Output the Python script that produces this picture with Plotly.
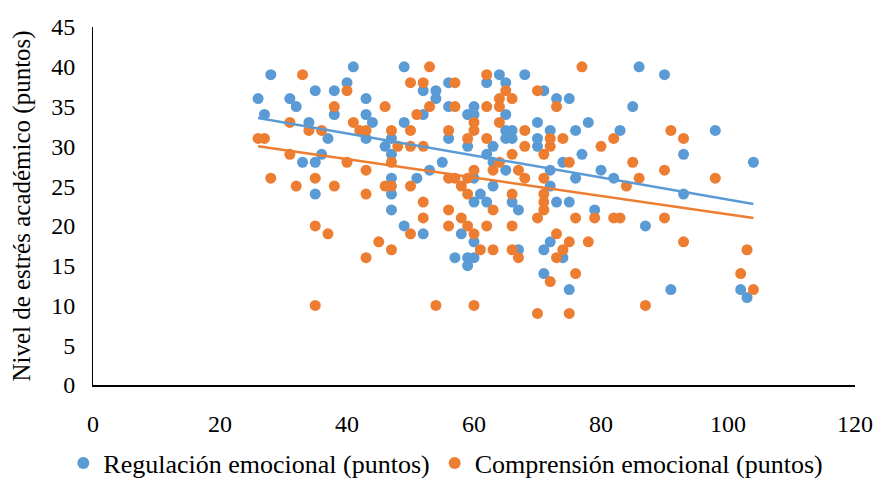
import numpy as np
import plotly.graph_objects as go

# Regulación emocional (puntos) vs Nivel de estrés académico
reg_x = [26, 27, 28, 31, 32, 35, 38, 40, 41, 43, 38, 43, 44, 34, 37, 43, 47, 46, 47, 36,
         33, 35, 47, 35, 47, 49, 68, 64, 56, 62, 65, 52, 54, 54, 71, 56, 60, 59, 60, 65,
         52, 49, 70, 65, 66, 65, 66, 56, 59, 63, 70, 70, 62, 55, 63, 65, 72, 47, 51, 53,
         60, 63, 60, 61, 66, 67, 49, 52, 58, 60, 62, 67, 57, 59, 60, 59, 71, 72, 71, 86,
         90, 85, 73, 75, 78, 83, 76, 72, 77, 93, 74, 80, 82, 76, 93, 72, 73, 75, 79, 87,
         74, 75, 91, 98, 104, 102, 103]
reg_y = [36, 34, 39, 36, 35, 37, 37, 38, 40, 36, 34, 34, 33, 33, 31, 31, 31, 30, 29, 29,
         28, 28, 24, 24, 22, 40, 39, 39, 38, 38, 38, 37, 37, 36, 37, 35, 35, 34, 34, 34,
         34, 33, 33, 32, 32, 31, 31, 31, 30, 30, 31, 30, 29, 28, 28, 27, 27, 26, 26, 27,
         26, 25, 23, 24, 23, 22, 20, 19, 19, 18, 23, 17, 16, 16, 16, 15, 17, 18, 14, 40,
         39, 35, 36, 36, 33, 32, 32, 32, 29, 29, 28, 27, 26, 26, 24, 25, 23, 23, 22, 20,
         16, 12, 12, 32, 28, 12, 11]

# Comprensión emocional (puntos) vs Nivel de estrés académico
com_x = [33, 40, 38, 46, 31, 41, 34, 36, 42, 43, 47, 26, 27, 48, 31, 40, 43, 47, 28, 35,
         32, 38, 46, 47, 43, 35, 37, 45, 43, 47, 35, 53, 62, 50, 52, 57, 65, 66, 64, 70,
         53, 57, 62, 64, 51, 60, 64, 60, 56, 50, 68, 59, 62, 68, 50, 52, 71, 72, 66, 64,
         60, 63, 67, 68, 56, 57, 59, 58, 59, 50, 71, 66, 71, 71, 71, 52, 56, 58, 52, 56,
         59, 60, 63, 70, 50, 62, 66, 61, 63, 66, 67, 72, 54, 60, 70, 77, 73, 91, 93, 82,
         80, 74, 72, 75, 85, 90, 86, 84, 76, 79, 82, 83, 90, 73, 75, 78, 93, 74, 73, 76,
         87, 75, 98, 103, 102, 104]
com_y = [39, 37, 35, 35, 33, 33, 32, 32, 32, 32, 32, 31, 31, 30, 29, 28, 27, 28, 26, 26,
         25, 25, 25, 25, 24, 20, 19, 18, 16, 17, 10, 40, 39, 38, 38, 38, 37, 36, 36, 37,
         35, 35, 35, 35, 34, 33, 33, 32, 32, 32, 32, 31, 31, 30, 30, 30, 29, 30, 29, 28,
         27, 27, 27, 26, 26, 26, 26, 25, 24, 25, 26, 24, 24, 23, 22, 23, 22, 21, 21, 20,
         20, 19, 22, 21, 19, 20, 20, 17, 17, 17, 16, 13, 10, 10, 9, 40, 35, 32, 31, 31,
         30, 31, 31, 28, 28, 27, 26, 25, 21, 21, 21, 21, 21, 19, 18, 18, 18, 17, 16, 14,
         10, 9, 26, 17, 14, 12]

x_ticks = [0, 20, 40, 60, 80, 100, 120]
y_ticks = [0, 5, 10, 15, 20, 25, 30, 35, 40, 45]

BLUE = "#5B9BD5"
ORANGE = "#ED7D31"
FONT = "Liberation Serif, Times New Roman, serif"

fig = go.Figure()
fig.add_trace(go.Scatter(x=reg_x, y=reg_y, mode="markers", name="Regulación emocional (puntos)",
                         marker=dict(color=BLUE, size=11, line=dict(width=0))))
fig.add_trace(go.Scatter(x=com_x, y=com_y, mode="markers", name="Comprensión emocional (puntos)",
                         marker=dict(color=ORANGE, size=11, line=dict(width=0))))

for xs, ys, col in [(reg_x, reg_y, BLUE), (com_x, com_y, ORANGE)]:
    m, b = np.polyfit(xs, ys, 1)
    lx = np.array([min(xs), max(xs)])
    fig.add_trace(go.Scatter(x=lx, y=m * lx + b, mode="lines", showlegend=False,
                             line=dict(color=col, width=2.5), hoverinfo="skip"))

fig.update_layout(
    width=877, height=472,
    margin=dict(l=85, r=30, t=19, b=95, autoexpand=False),
    paper_bgcolor="white", plot_bgcolor="white",
    font=dict(family=FONT, size=24, color="#000000"),
    showlegend=True,
    legend=dict(orientation="h", x=0.463, xanchor="center",
                y=-0.218, yanchor="middle",
                font=dict(family=FONT, size=26), itemsizing="constant",
                traceorder="normal", itemwidth=30),
)
fig.update_xaxes(range=[0, 120], tickvals=x_ticks, showgrid=False, zeroline=False,
                 showline=True, linecolor="#000000", linewidth=2, ticks="",
                 ticklabelstandoff=16, tickfont=dict(family=FONT, size=24))
fig.update_yaxes(range=[0, 45], tickvals=y_ticks, showgrid=False, zeroline=False,
                 showline=True, linecolor="#000000", linewidth=1, ticks="",
                 ticklabelstandoff=12, tickfont=dict(family=FONT, size=24),
                 title=dict(text="Nivel de estrés académico (puntos)", standoff=16,
                            font=dict(family=FONT, size=25)))

fig.write_html("out.html")
